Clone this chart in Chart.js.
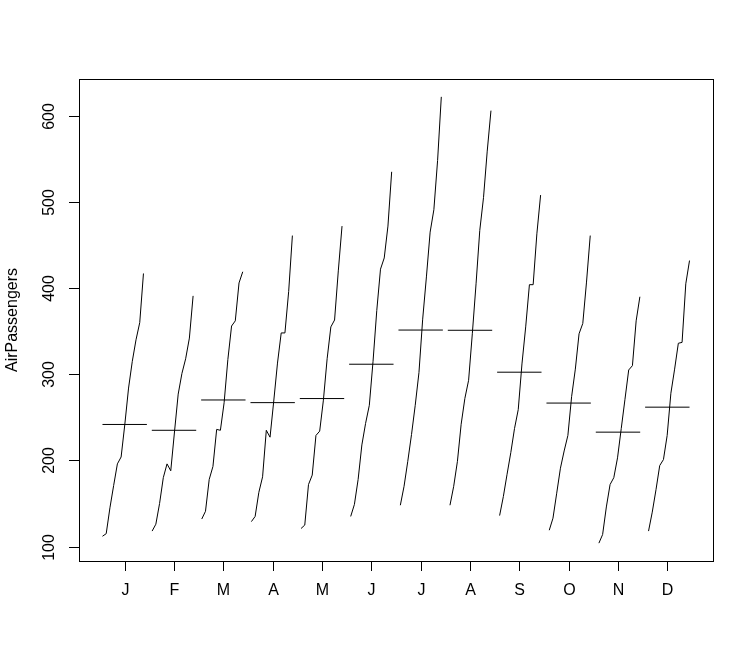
<!DOCTYPE html>
<html>
<head>
<meta charset="utf-8">
<script src="https://cdn.jsdelivr.net/npm/chart.js@4"></script>
<style>
  html, body { margin: 0; padding: 0; background: #fff; }
  canvas { display: block; }
</style>
</head>
<body>
<canvas id="monthChart" width="754" height="659"></canvas>
<script>
// month labels on the x axis
const monthLabels = ['J', 'F', 'M', 'A', 'M', 'J', 'J', 'A', 'S', 'O', 'N', 'D'];
const years = [1949, 1950, 1951, 1952, 1953, 1954, 1955, 1956, 1957, 1958, 1959, 1960];
const yTicks = [100, 200, 300, 400, 500, 600];

// AirPassengers, one row per year (Jan..Dec)
const y1949 = [112, 118, 132, 129, 121, 135, 148, 148, 136, 119, 104, 118];
const y1950 = [115, 126, 141, 135, 125, 149, 170, 170, 158, 133, 114, 140];
const y1951 = [145, 150, 178, 163, 172, 178, 199, 199, 184, 162, 146, 166];
const y1952 = [171, 180, 193, 181, 183, 218, 230, 242, 209, 191, 172, 194];
const y1953 = [196, 196, 236, 235, 229, 243, 264, 272, 237, 211, 180, 201];
const y1954 = [204, 188, 235, 227, 234, 264, 302, 293, 259, 229, 203, 229];
const y1955 = [242, 233, 267, 269, 270, 315, 364, 347, 312, 274, 237, 278];
const y1956 = [284, 277, 317, 313, 318, 374, 413, 405, 355, 306, 271, 306];
const y1957 = [315, 301, 356, 348, 355, 422, 465, 467, 404, 347, 305, 336];
const y1958 = [340, 318, 362, 348, 363, 435, 491, 505, 404, 359, 310, 337];
const y1959 = [360, 342, 406, 396, 420, 472, 548, 559, 463, 407, 362, 405];
const y1960 = [417, 391, 419, 461, 472, 535, 622, 606, 508, 461, 390, 432];
const rows = [y1949, y1950, y1951, y1952, y1953, y1954, y1955, y1956, y1957, y1958, y1959, y1960];

// monthplot layout: each month's series spread over i-0.45 .. i+0.45 by time
const tStart = years[0], tEnd = years[years.length - 1] + 11 / 12;
const scaleT = 0.9 / (tEnd - tStart);

const datasets = [];
for (let m = 0; m < 12; m++) {
  const pts = rows.map((row, k) => ({
    x: (years[k] + m / 12 - tStart) * scaleT - 0.45 + (m + 1),
    y: row[m]
  }));
  datasets.push({ data: pts });
  const mean = rows.reduce((s, row) => s + row[m], 0) / rows.length;
  datasets.push({ data: [{ x: m + 1 - 0.45, y: mean }, { x: m + 1 + 0.45, y: mean }] });
}

const font = '16px "Liberation Sans", Arial, sans-serif';

const axesPlugin = {
  id: 'rAxes',
  afterDraw(chart) {
    const { ctx, chartArea: a, scales } = chart;
    ctx.save();
    ctx.strokeStyle = '#000';
    ctx.lineWidth = 1;
    ctx.strokeRect(Math.round(a.left) + 0.5, Math.round(a.top) + 0.5,
      Math.round(a.right - a.left), Math.round(a.bottom - a.top));
    ctx.fillStyle = '#000';
    ctx.font = font;
    // x axis
    ctx.textAlign = 'center';
    ctx.textBaseline = 'middle';
    monthLabels.forEach((lab, i) => {
      const x = Math.round(scales.x.getPixelForValue(i + 1)) + 0.5;
      ctx.beginPath();
      ctx.moveTo(x, a.bottom);
      ctx.lineTo(x, a.bottom + 10);
      ctx.stroke();
      ctx.fillText(lab, x, a.bottom + 30);
    });
    // y axis
    yTicks.forEach(v => {
      const y = Math.round(scales.y.getPixelForValue(v)) + 0.5;
      ctx.beginPath();
      ctx.moveTo(a.left, y);
      ctx.lineTo(a.left - 10, y);
      ctx.stroke();
      ctx.save();
      ctx.translate(a.left - 29, y);
      ctx.rotate(-Math.PI / 2);
      ctx.fillText(String(v), 0, 0);
      ctx.restore();
    });
    ctx.save();
    ctx.translate(13, (a.top + a.bottom) / 2);
    ctx.rotate(-Math.PI / 2);
    ctx.fillText('AirPassengers', 0, 0);
    ctx.restore();
    ctx.restore();
  }
};

new Chart(document.getElementById('monthChart').getContext('2d'), {
  type: 'line',
  data: { datasets },
  options: {
    responsive: false,
    animation: false,
    layout: { padding: { left: 79, top: 79, right: 41, bottom: 98 } },
    elements: {
      line: { borderColor: '#000', borderWidth: 1, tension: 0, fill: false },
      point: { radius: 0, hoverRadius: 0 }
    },
    scales: {
      x: { type: 'linear', display: false, min: 0.074, max: 12.926 },
      y: { type: 'linear', display: false, min: 83.28, max: 642.72 }
    },
    plugins: {
      legend: { display: false },
      tooltip: { enabled: false }
    }
  },
  plugins: [axesPlugin]
});
</script>
</body>
</html>
